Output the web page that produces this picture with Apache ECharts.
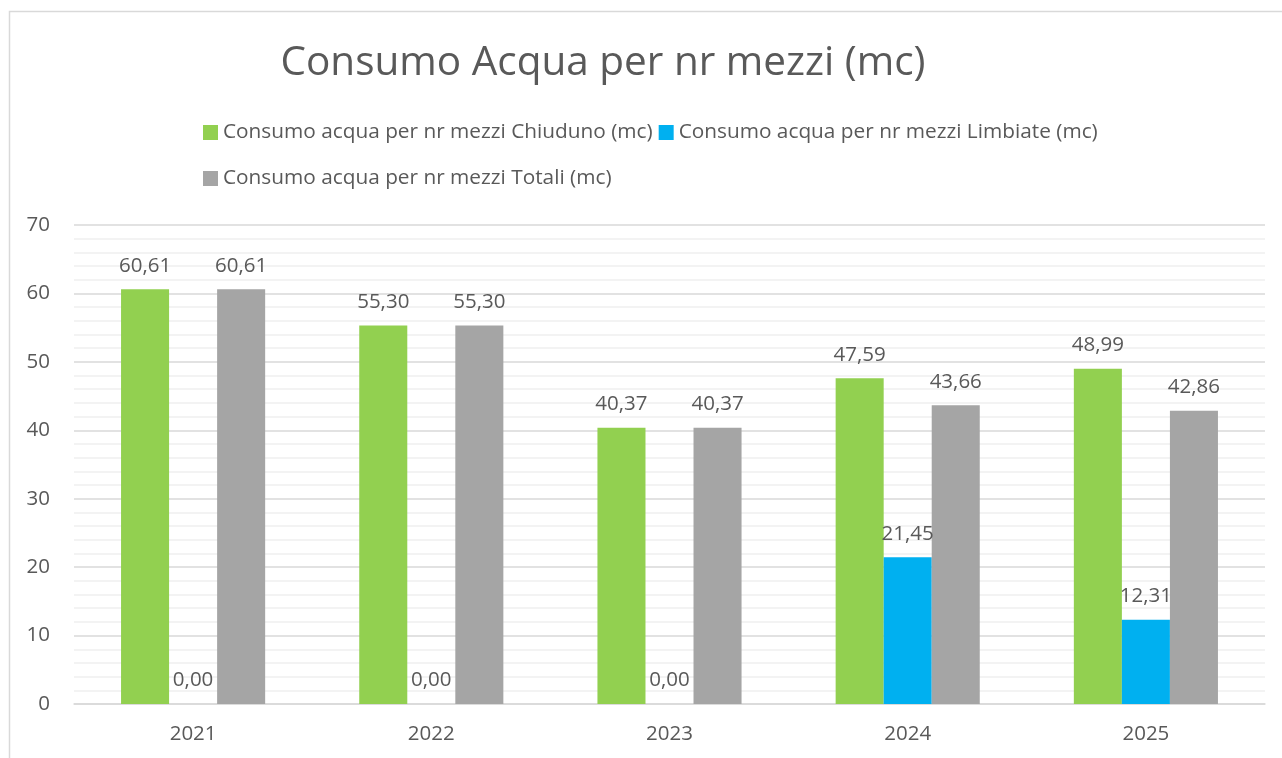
<!DOCTYPE html>
<html><head><meta charset="utf-8">
<script src="https://cdn.jsdelivr.net/npm/echarts@6/dist/echarts.min.js"></script>
<style>html,body{margin:0;padding:0;background:#fff}#c{width:1282px;height:758px}</style>
</head><body><div id="c"></div>
<script>
const categories = ['2021','2022','2023','2024','2025'];
const seriesNames = ['Consumo acqua per nr mezzi Chiuduno (mc)','Consumo acqua per nr mezzi Limbiate (mc)','Consumo acqua per nr mezzi Totali (mc)'];
const chiuduno = [60.61, 55.30, 40.37, 47.59, 48.99];
const limbiate = [0.00, 0.00, 0.00, 21.45, 12.31];
const totali = [60.61, 55.30, 40.37, 43.66, 42.86];
const colors = ['#92D050','#00B0F0','#A5A5A5'];
const FONT = 'Open Sans';
const txt = '#595959';
const chart = echarts.init(document.getElementById('c'));
function mk(name, data, color){
  return {name, type:'bar', data, barGap:'0%', barCategoryGap:'39.5%',
    itemStyle:{color},
    label:{show:true, position:'top', distance:13, color:txt, fontFamily:FONT, fontSize:20.5,
      formatter:p=>p.value.toFixed(2).replace('.',',')}};
}
chart.setOption({
  animation:false,
  textStyle:{fontFamily:FONT},
  graphic:[{type:'rect', shape:{x:9.5,y:11.5,width:1300,height:800}, style:{fill:null, stroke:'#D9D9D9', lineWidth:1.5}}],
  title:{text:'Consumo Acqua per nr mezzi (mc)', left:598, textAlign:'center', top:38,
    textStyle:{fontFamily:FONT, fontSize:40.5, fontWeight:'normal', color:txt}},
  legend:[
    {data:seriesNames.slice(0,2), left:198, top:117, itemWidth:15, itemHeight:15, itemGap:6, icon:'rect',
      textStyle:{fontFamily:FONT, fontSize:20.8, color:txt, padding:[0,0,0,0]}},
    {data:seriesNames.slice(2), left:198, top:163, itemWidth:15, itemHeight:15, icon:'rect',
      textStyle:{fontFamily:FONT, fontSize:20.8, color:txt, padding:[0,0,0,0]}}
  ],
  grid:{left:74, right:17, top:225, bottom:54, containLabel:false},
  xAxis:{type:'category', data:categories,
    axisLine:{lineStyle:{color:'#D9D9D9', width:1.5}}, axisTick:{show:false},
    axisLabel:{color:txt, fontFamily:FONT, fontSize:20.5, margin:20}},
  yAxis:{type:'value', min:0, max:70, interval:10,
    axisLine:{show:false}, axisTick:{show:false},
    axisLabel:{color:txt, fontFamily:FONT, fontSize:20.5, margin:24},
    splitLine:{lineStyle:{color:'#D9D9D9', width:1.5}},
    minorTick:{show:false, splitNumber:5},
    minorSplitLine:{show:true, lineStyle:{color:'#F0F0F0', width:1.5}}},
  series:[mk(seriesNames[0], chiuduno, colors[0]), mk(seriesNames[1], limbiate, colors[1]), mk(seriesNames[2], totali, colors[2])]
});
</script></body></html>
